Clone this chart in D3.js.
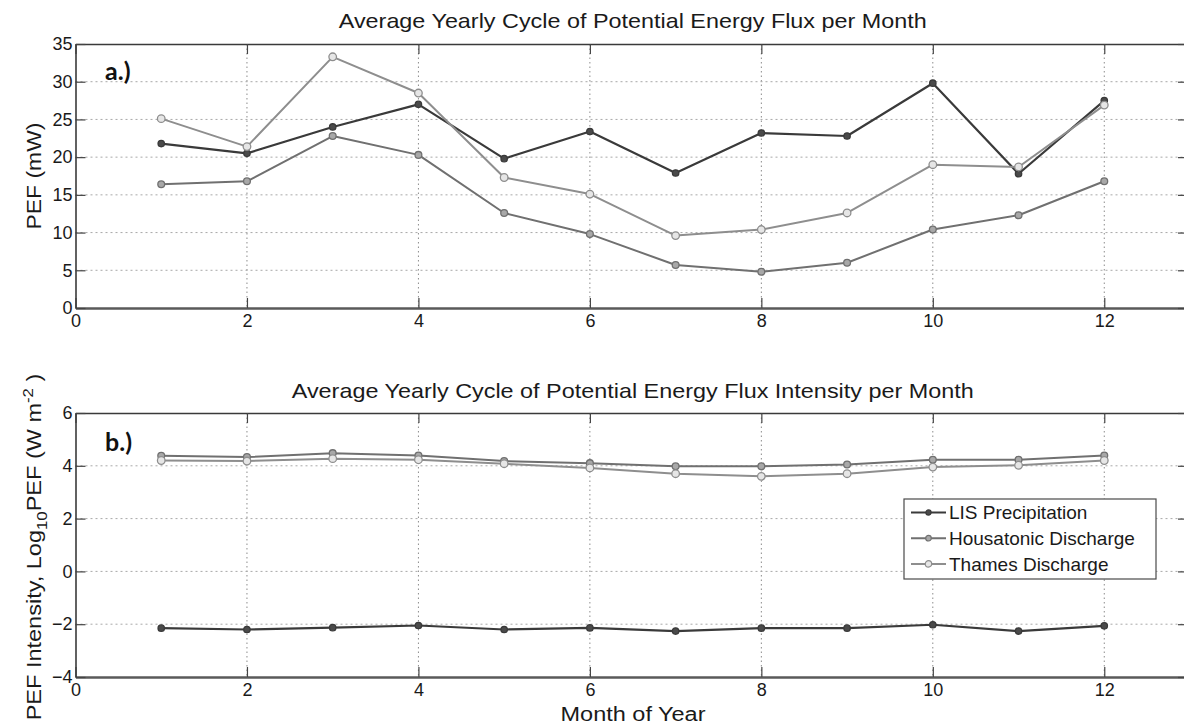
<!DOCTYPE html>
<html>
<head>
<meta charset="utf-8">
<script src="https://cdn.jsdelivr.net/npm/d3@7"></script>
<style>
  html, body { margin: 0; padding: 0; background: #fff; }
  svg { display: block; font-family: "Liberation Sans", Arial, sans-serif; }
</style>
</head>
<body>
<svg id="chart" width="1184" height="726"></svg>
<script>
// Month of year
const months = [1, 2, 3, 4, 5, 6, 7, 8, 9, 10, 11, 12];

// Panel a: potential energy flux (mW)
const lisPef      = [21.8, 20.5, 24.0, 27.0, 19.8, 23.4, 17.9, 23.2, 22.8, 29.8, 17.8, 27.5];
const housPef     = [16.4, 16.8, 22.8, 20.3, 12.6, 9.8, 5.7, 4.8, 6.0, 10.4, 12.3, 16.8];
const thamesPef   = [25.1, 21.4, 33.3, 28.5, 17.3, 15.1, 9.6, 10.4, 12.6, 19.0, 18.7, 26.9];

// Panel b: log10 potential energy flux intensity (W m^-2)
const lisInt      = [-2.15, -2.2, -2.13, -2.05, -2.2, -2.14, -2.26, -2.15, -2.15, -2.02, -2.26, -2.06];
const housInt     = [4.38, 4.33, 4.48, 4.39, 4.18, 4.10, 3.98, 3.98, 4.05, 4.23, 4.23, 4.39];
const thamesInt   = [4.20, 4.18, 4.27, 4.23, 4.08, 3.92, 3.70, 3.60, 3.70, 3.95, 4.02, 4.20];

// Tick values
const xTicks   = [0, 2, 4, 6, 8, 10, 12];
const yTicksA  = [0, 5, 10, 15, 20, 25, 30, 35];
const yTicksB  = [-4, -2, 0, 2, 4, 6];

const seriesNames = ["LIS Precipitation", "Housatonic Discharge", "Thames Discharge"];

const styles = [
  { stroke: "#3a3a3a", fill: "#4a4a4a", r: 3.2, width: 2.2 },
  { stroke: "#707070", fill: "#a8a8a8", r: 3.4, width: 2 },
  { stroke: "#8e8e8e", fill: "#e6e6e6", r: 3.8, width: 2 }
];

const svg = d3.select("#chart");
const x = d3.scaleLinear().domain([0, 13]).range([75.5, 1190]);

function drawPanel(cfg) {
  const y = d3.scaleLinear().domain(cfg.domain).range([cfg.bottom, cfg.top]);
  const g = svg.append("g");

  // clip for marks
  const clipId = "clip-" + cfg.id;
  svg.append("clipPath").attr("id", clipId)
    .append("rect").attr("x", x(0)).attr("y", cfg.top - 4)
    .attr("width", x(13) - x(0)).attr("height", cfg.bottom - cfg.top + 8);

  // dotted grid
  const grid = g.append("g");
  grid.selectAll("line.vg").data(xTicks.filter(d => d > 0)).join("line")
    .attr("x1", d => x(d)).attr("x2", d => x(d))
    .attr("y1", cfg.top).attr("y2", cfg.bottom)
    .attr("stroke", "#8c8c8c").attr("stroke-width", 1)
    .attr("stroke-dasharray", "1.5,3");
  grid.selectAll("line.hg").data(cfg.ticks.slice(1, -1)).join("line")
    .attr("x1", x(0)).attr("x2", x(13))
    .attr("y1", d => y(d)).attr("y2", d => y(d))
    .attr("stroke", "#a8a8a8").attr("stroke-width", 1)
    .attr("stroke-dasharray", "2,3");

  // axes
  const axB = g.append("g").attr("transform", `translate(0,${cfg.bottom})`)
    .call(d3.axisBottom(x).tickValues(xTicks).tickSize(-10).tickSizeOuter(0).tickPadding(6));
  axB.select(".domain").attr("stroke", "#5a5a5a").attr("stroke-width", 2.4);
  axB.selectAll(".tick line").attr("stroke", "#444").attr("stroke-width", 1.2);
  axB.selectAll(".tick text").attr("font-size", 18).attr("fill", "#1a1a1a")
    .attr("font-family", "Liberation Sans, Arial, sans-serif");

  const axT = g.append("g").attr("transform", `translate(0,${cfg.top})`)
    .call(d3.axisTop(x).tickValues(xTicks).tickSize(-10).tickSizeOuter(0).tickFormat(""));
  axT.select(".domain").attr("stroke", "#3a3a3a").attr("stroke-width", 1.6);
  axT.selectAll(".tick line").attr("stroke", "#444").attr("stroke-width", 1.2);

  const axL = g.append("g").attr("transform", `translate(${x(0)},0)`)
    .call(d3.axisLeft(y).tickValues(cfg.ticks).tickSize(-10).tickSizeOuter(0).tickPadding(3));
  axL.select(".domain").attr("stroke", "#3a3a3a").attr("stroke-width", 1.6);
  axL.selectAll(".tick line").attr("stroke", "#444").attr("stroke-width", 1.2);
  axL.selectAll(".tick text").attr("font-size", 18).attr("fill", "#1a1a1a")
    .attr("font-family", "Liberation Sans, Arial, sans-serif");

  const axR = g.append("g").attr("transform", `translate(${x(13) - 2},0)`)
    .call(d3.axisRight(y).tickValues(cfg.ticks).tickSize(-10).tickSizeOuter(0).tickFormat(""));
  axR.select(".domain").attr("stroke", "#3a3a3a").attr("stroke-width", 1.6);
  axR.selectAll(".tick line").attr("stroke", "#444").attr("stroke-width", 1.2);

  // series
  const line = d3.line().x((d, i) => x(months[i])).y(d => y(d));
  const marks = g.append("g").attr("clip-path", `url(#${clipId})`);
  cfg.series.forEach((vals, si) => {
    const st = styles[si];
    marks.append("path").datum(vals)
      .attr("d", line).attr("fill", "none")
      .attr("stroke", st.stroke).attr("stroke-width", st.width)
      .attr("stroke-linejoin", "round");
    marks.selectAll(null).data(vals).join("circle")
      .attr("cx", (d, i) => x(months[i])).attr("cy", d => y(d))
      .attr("r", st.r).attr("fill", st.fill)
      .attr("stroke", st.stroke).attr("stroke-width", 1.3);
  });

  // title
  svg.append("text").attr("x", (x(0) + x(13)) / 2).attr("y", cfg.titleY)
    .attr("text-anchor", "middle").attr("font-size", 21).attr("fill", "#1a1a1a")
    .attr("textLength", cfg.titleLen).attr("lengthAdjust", "spacingAndGlyphs")
    .text(cfg.title);

  // panel tag
  svg.append("text").attr("x", 105).attr("y", cfg.tagY)
    .attr("font-family", "Lato, 'Open Sans', sans-serif").attr("font-weight", 700)
    .attr("font-size", 25).attr("fill", "#111").text(cfg.tag);

  return y;
}

drawPanel({
  id: "a", top: 44, bottom: 308, domain: [0, 35], ticks: yTicksA,
  series: [lisPef, housPef, thamesPef],
  title: "Average Yearly Cycle of Potential Energy Flux per Month",
  titleY: 28, titleLen: 588, tag: "a.)", tagY: 80
});

drawPanel({
  id: "b", top: 413, bottom: 677, domain: [-4, 6], ticks: yTicksB,
  series: [lisInt, housInt, thamesInt],
  title: "Average Yearly Cycle of Potential Energy Flux Intensity per Month",
  titleY: 398, titleLen: 682, tag: "b.)", tagY: 451
});

// y-axis labels
svg.append("text")
  .attr("transform", "translate(41,176) rotate(-90)")
  .attr("text-anchor", "middle").attr("font-size", 21).attr("fill", "#1a1a1a")
  .attr("textLength", 107).attr("lengthAdjust", "spacingAndGlyphs")
  .text("PEF (mW)");

const yLabB = svg.append("text")
  .attr("transform", "translate(41,547) rotate(-90) scale(1.12,1)")
  .attr("text-anchor", "middle").attr("font-size", 21).attr("fill", "#1a1a1a");
yLabB.append("tspan").text("PEF Intensity, Log");
yLabB.append("tspan").attr("font-size", 15).attr("dy", 6).text("10");
yLabB.append("tspan").attr("dy", -6).text("PEF (W m");
yLabB.append("tspan").attr("font-size", 15).attr("dy", -8).text("-2");
yLabB.append("tspan").attr("dy", 8).text(" )");

// x-axis label
svg.append("text").attr("x", 633).attr("y", 721)
  .attr("text-anchor", "middle").attr("font-size", 20).attr("fill", "#1a1a1a")
  .attr("textLength", 145).attr("lengthAdjust", "spacingAndGlyphs")
  .text("Month of Year");

// legend
const leg = svg.append("g").attr("transform", "translate(904,499)");
leg.append("rect").attr("width", 252).attr("height", 80)
  .attr("fill", "#fff").attr("stroke", "#4a4a4a").attr("stroke-width", 1.2);
const rows = leg.selectAll("g.row").data(seriesNames).join("g")
  .attr("transform", (d, i) => `translate(0,${13.5 + i * 25.7})`);
rows.append("line").attr("x1", 7).attr("x2", 42).attr("y1", 0).attr("y2", 0)
  .attr("stroke", (d, i) => styles[i].stroke).attr("stroke-width", 2);
rows.append("circle").attr("cx", 24.5).attr("cy", 0).attr("r", (d, i) => styles[i].r - 0.6)
  .attr("fill", (d, i) => styles[i].fill).attr("stroke", (d, i) => styles[i].stroke).attr("stroke-width", 1.2);
rows.append("text").attr("x", 45).attr("y", 6.8).attr("font-size", 19).attr("fill", "#1a1a1a")
  .text(d => d);
</script>
</body>
</html>
